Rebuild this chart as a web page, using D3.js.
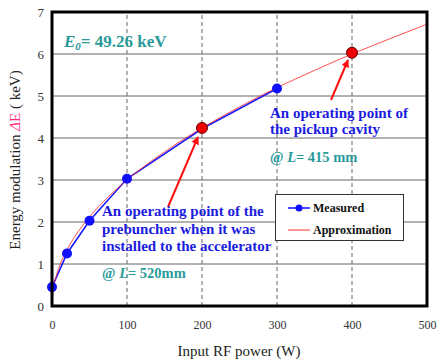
<!DOCTYPE html>
<html>
<head>
<meta charset="utf-8">
<script src="https://cdn.jsdelivr.net/npm/d3@7"></script>
<style>
  body { margin: 0; background: #fff; }
</style>
</head>
<body>
<div id="chart"></div>
<script>
var width = 439,
    height = 364;
var FONT = "'Liberation Serif', 'Times New Roman', 'DejaVu Serif', serif";

// measured points
var measPower = [0, 20, 50, 100, 200, 300];
var measDE    = [0.45, 1.25, 2.03, 3.03, 4.22, 5.18];

// approximation curve
var apprPower = [0, 2, 5, 10, 20, 30, 50, 75, 100, 150, 200, 250, 300, 350, 400, 450, 500];
var apprDE    = [0, 0.42, 0.67, 0.95, 1.34, 1.64, 2.12, 2.6, 3.0, 3.67, 4.24, 4.74, 5.2, 5.61, 6.0, 6.36, 6.71];

// operating points
var opPower = [200, 400];
var opDE    = [4.24, 6.03];

var xTicks = [0, 100, 200, 300, 400, 500];
var yTicks = [0, 1, 2, 3, 4, 5, 6, 7];

var margin = {top: 12, right: 12, bottom: 58, left: 52};

var svg = d3.select("#chart")
    .append("svg")
    .attr("width", width)
    .attr("height", height)
    .style("font-family", FONT);

var x = d3.scaleLinear().domain([0, 500]).range([margin.left, width - margin.right]);
var y = d3.scaleLinear().domain([0, 7]).range([height - margin.bottom, margin.top]);

// grid
svg.selectAll(".hgrid")
    .data(yTicks.slice(1, -1))
    .enter().append("line")
    .attr("x1", x(0)).attr("x2", x(500))
    .attr("y1", function(d) { return y(d); })
    .attr("y2", function(d) { return y(d); })
    .attr("stroke", "#666").attr("stroke-width", 1);

svg.selectAll(".vgrid")
    .data(xTicks.slice(1, -1))
    .enter().append("line")
    .attr("y1", y(0)).attr("y2", y(7))
    .attr("x1", function(d) { return x(d); })
    .attr("x2", function(d) { return x(d); })
    .attr("stroke", "#666").attr("stroke-width", 1)
    .attr("stroke-dasharray", "4,3");

// axes (labels only, frame drawn separately)
var xAxis = svg.append("g")
    .attr("transform", "translate(0," + (y(0) + 10) + ")")
    .call(d3.axisBottom(x).tickValues(xTicks).tickFormat(d3.format("d")).tickSize(0).tickPadding(4));
xAxis.attr("font-family", null).attr("font-size", 12);
xAxis.select(".domain").remove();
xAxis.selectAll("text").attr("fill", "#333");

var yAxis = svg.append("g")
    .attr("transform", "translate(" + (x(0) - 8) + ",0)")
    .call(d3.axisLeft(y).tickValues(yTicks).tickFormat(d3.format("d")).tickSize(0).tickPadding(0));
yAxis.attr("font-family", null).attr("font-size", 13);
yAxis.select(".domain").remove();
yAxis.selectAll("text").attr("fill", "#333");

// curves
var line = d3.line()
    .x(function(d) { return x(d[0]); })
    .y(function(d) { return y(d[1]); });

var meas = d3.zip(measPower, measDE);
var appr = d3.zip(apprPower, apprDE);

svg.append("path")
    .datum(meas)
    .attr("d", line)
    .attr("fill", "none")
    .attr("stroke", "#1a1aff")
    .attr("stroke-width", 1.6);

svg.append("path")
    .datum(appr)
    .attr("d", d3.line().curve(d3.curveMonotoneX)
      .x(function(d) { return x(d[0]); })
      .y(function(d) { return y(d[1]); }))
    .attr("fill", "none")
    .attr("stroke", "#ff3030")
    .attr("stroke-opacity", 0.85)
    .attr("stroke-width", 1);

svg.selectAll(".meas")
    .data(meas.filter(function(d) { return d[0] != 200; }))
    .enter().append("circle")
    .attr("cx", function(d) { return x(d[0]); })
    .attr("cy", function(d) { return y(d[1]); })
    .attr("r", 5)
    .attr("fill", "#1010ff");

svg.selectAll(".op")
    .data(d3.zip(opPower, opDE))
    .enter().append("circle")
    .attr("cx", function(d) { return x(d[0]); })
    .attr("cy", function(d) { return y(d[1]); })
    .attr("r", 5.5)
    .attr("fill", "#ee0000")
    .attr("stroke", "#600")
    .attr("stroke-width", 1);

// frame
svg.append("rect")
    .attr("x", x(0)).attr("y", y(7))
    .attr("width", x(500) - x(0)).attr("height", y(0) - y(7))
    .attr("fill", "none").attr("stroke", "#000").attr("stroke-width", 3);

// arrows
svg.append("defs").append("marker")
    .attr("id", "arr")
    .attr("viewBox", "0 0 10 10")
    .attr("refX", 9).attr("refY", 5)
    .attr("markerWidth", 4).attr("markerHeight", 4)
    .attr("orient", "auto")
    .append("path").attr("d", "M0,0L10,5L0,10z").attr("fill", "#ff1010");

svg.append("line")
    .attr("x1", 168).attr("y1", 207)
    .attr("x2", 198).attr("y2", 137)
    .attr("stroke", "#ff1010").attr("stroke-width", 2)
    .attr("marker-end", "url(#arr)");

svg.append("line")
    .attr("x1", 331).attr("y1", 100)
    .attr("x2", 348).attr("y2", 60)
    .attr("stroke", "#ff1010").attr("stroke-width", 2)
    .attr("marker-end", "url(#arr)");

// annotations
var teal = "#2a9a9a", blue = "#1c1ce0";

var e0 = svg.append("text")
    .attr("x", 64).attr("y", 47)
    .attr("font-size", 17).attr("font-weight", "bold").attr("fill", teal);
e0.append("tspan").attr("font-style", "italic").text("E");
e0.append("tspan").attr("font-style", "italic").attr("font-size", 11).attr("dy", 3).text("0");
e0.append("tspan").attr("dy", -3).text("= 49.26 keV");

function block(lines, x0, y0, dy) {
  var t = svg.append("text")
      .attr("font-size", 15).attr("font-weight", "bold").attr("fill", blue);
  lines.forEach(function(s, i) {
    t.append("tspan").attr("x", x0).attr("y", y0 + i * dy).text(s);
  });
}
block(["An operating point of", "the pickup cavity"], 270, 118, 16);
block(["An operating point of the", "prebuncher when it was", "installed to the accelerator"], 102, 216, 17.5);

function atL(x0, y0, val) {
  var t = svg.append("text")
      .attr("x", x0).attr("y", y0)
      .attr("font-size", 14.5).attr("font-weight", "bold").attr("fill", teal);
  t.append("tspan").text("@ ");
  t.append("tspan").attr("font-style", "italic").text("L");
  t.append("tspan").text(val);
}
atL(270, 162, "= 415 mm");
atL(102, 278, "= 520mm");

// legend
var lg = svg.append("g");
lg.append("rect")
    .attr("x", 275.5).attr("y", 194.5).attr("width", 128).attr("height", 46)
    .attr("fill", "#fff").attr("stroke", "#333").attr("stroke-width", 1);
lg.append("line").attr("x1", 288).attr("x2", 310).attr("y1", 208).attr("y2", 208)
    .attr("stroke", "#1a1aff").attr("stroke-width", 1.6);
lg.append("circle").attr("cx", 299).attr("cy", 208).attr("r", 3.5).attr("fill", "#1010ff");
lg.append("line").attr("x1", 288).attr("x2", 310).attr("y1", 230).attr("y2", 230)
    .attr("stroke", "#ff3030").attr("stroke-width", 1);
lg.append("text").attr("x", 313).attr("y", 212).attr("font-size", 12)
    .attr("font-weight", "bold").attr("fill", "#111").text("Measured");
lg.append("text").attr("x", 313).attr("y", 234).attr("font-size", 12)
    .attr("font-weight", "bold").attr("fill", "#111").text("Approximation");

// axis titles
svg.append("text")
    .attr("x", 239).attr("y", 356)
    .attr("text-anchor", "middle")
    .attr("font-size", 15).attr("fill", "#222")
    .text("Input RF power (W)");

var yl = svg.append("text")
    .attr("transform", "translate(20,160) rotate(-90)")
    .attr("text-anchor", "middle")
    .attr("font-size", 15).attr("fill", "#222");
yl.append("tspan").text("Energy modulation ");
yl.append("tspan").attr("fill", "#ff2a7f").attr("font-style", "italic").text("Δ");
yl.append("tspan").attr("fill", "#ff2a7f").text("E");
yl.append("tspan").text(" ( keV)");
</script>
</body>
</html>
